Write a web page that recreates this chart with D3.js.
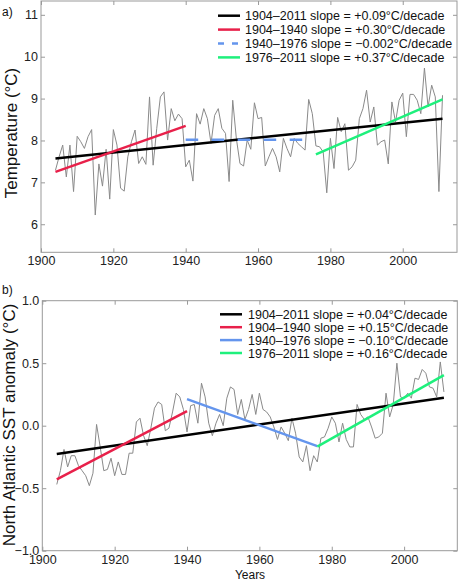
<!DOCTYPE html>
<html>
<head>
<meta charset="utf-8">
<script src="https://cdn.jsdelivr.net/npm/d3@7"></script>
<style>
  body { margin: 0; background: #fff; }
  svg { display: block; font-family: "Liberation Sans", Arial, sans-serif; }
  .frame { fill: none; stroke: #999; stroke-width: 1; }
  .tick line { stroke: #999; }
  .tick text { fill: #222; font-size: 12.5px; }
  .domain { display: none; }
  .legend text { font-size: 12.5px; fill: #111; }
</style>
</head>
<body>
<svg id="chart"></svg>
<script>
//years of the record//
var years = d3.range(1904, 2012);

//a) annual mean temperature (°C)//
var tempValues = [
  7.29, 7.61, 7.89, 7.13, 7.89, 6.78,
  8.10, 7.97, 7.81, 8.09, 8.26, 6.22, 7.44, 6.91, 7.79, 6.60,
  8.26, 7.89, 6.86, 6.79, 7.61, 7.97, 8.25, 7.45, 7.61, 7.43,
  9.04, 7.41, 8.29, 9.04, 9.16, 8.01, 8.76, 8.47, 8.63, 8.52,
  7.37, 7.53, 7.03, 8.64, 8.39, 8.76, 8.52, 7.93, 8.60, 8.76,
  8.29, 8.17, 7.02, 8.96, 8.05, 7.45, 7.39, 8.01, 7.79, 8.90,
  8.52, 8.55, 7.39, 7.61, 7.81, 7.61, 7.25, 8.05, 7.81, 7.61,
  8.05, 7.93, 7.85, 7.77, 8.98, 8.64, 7.87, 7.85, 7.73, 6.75,
  8.05, 7.33, 8.55, 8.21, 8.40, 7.29, 7.37, 7.53, 8.52, 8.76,
  9.20, 8.44, 8.80, 7.89, 7.97, 8.01, 7.44, 8.92, 8.44, 8.96,
  9.13, 8.09, 9.10, 9.10, 8.96, 8.64, 9.73, 8.80, 9.32, 9.04,
  6.78, 9.08
];

//b) North Atlantic SST anomaly (°C)//
var sstValues = [
  -0.47, -0.36, -0.19, -0.33, -0.24, -0.24,
  -0.32, -0.36, -0.40, -0.48, -0.38, 0.01, -0.17, -0.36, -0.35, -0.26,
  -0.40, -0.29, -0.39, -0.39, -0.22, -0.22, 0.03, 0.06, -0.08, -0.16,
  -0.02, 0.14, 0.19, 0.17, -0.04, -0.02, 0.11, 0.26, 0.23, 0.13,
  -0.05, 0.16, 0.17, 0.02, 0.34, 0.23, 0.02, -0.08, 0.02, 0.09,
  0.00, 0.22, 0.31, 0.29, 0.09, 0.21, 0.05, 0.13, 0.25, 0.09,
  0.26, 0.13, 0.11, 0.07, -0.01, -0.11, -0.01, -0.06, -0.12, 0.06,
  -0.06, -0.25, -0.29, -0.16, -0.36, -0.24, -0.29, -0.10, -0.09, -0.02,
  0.07, 0.02, -0.13, 0.02, -0.11, -0.17, -0.17, 0.17, 0.09, 0.05,
  0.07, -0.01, -0.10, -0.09, -0.06, 0.26, 0.07, 0.17, 0.50, 0.23,
  0.22, 0.26, 0.22, 0.38, 0.37, 0.45, 0.42, 0.31, 0.30, 0.23,
  0.51, 0.27
];

//trend periods, colours and fitted end values//
var trendPeriods = [[1904, 2011], [1904, 1940], [1940, 1976], [1976, 2011]];
var trendColors = ["#000000", "#e8204a", "#6495ed", "#1ef07c"];
var tempTrendEnds = [[7.57, 8.52], [7.25, 8.35], [8.02, 8.02], [7.67, 8.98]];
var sstTrendEnds = [[-0.227, 0.224], [-0.429, 0.117], [0.213, -0.163], [-0.168, 0.405]];

var tempLegend = [
  "1904\u20132011 slope = +0.09\u00b0C/decade",
  "1904\u20131940 slope = +0.30\u00b0C/decade",
  "1940\u20131976 slope = \u22120.002\u00b0C/decade",
  "1976\u20132011 slope = +0.37\u00b0C/decade"
];
var sstLegend = [
  "1904\u20132011 slope = +0.04\u00b0C/decade",
  "1904\u20131940 slope = +0.15\u00b0C/decade",
  "1940\u20131976 slope = \u22120.10\u00b0C/decade",
  "1976\u20132011 slope = +0.16\u00b0C/decade"
];

var xTicks = [1900, 1920, 1940, 1960, 1980, 2000];
var tempTicks = [6, 7, 8, 9, 10, 11];
var sstTicks = [-1, -0.5, 0, 0.5, 1];

var svg = d3.select("#chart").attr("width", 459).attr("height", 581);

var drawPanel = function (p) {
  var xScale = d3.scaleLinear().domain(p.xDomain).range([p.left, p.right]);
  var yScale = d3.scaleLinear().domain(p.yDomain).range([p.bottom, p.top]);

  var g = svg.append("g").classed("panel", true);

  //axes, ticks pointing inward on all four sides//
  g.append("g")
    .attr("transform", "translate(0," + p.bottom + ")")
    .call(d3.axisBottom(xScale).tickValues(xTicks).tickFormat(d3.format("d"))
      .tickSize(-4).tickPadding(p.xPad));
  g.append("g")
    .attr("transform", "translate(0," + p.top + ")")
    .call(d3.axisTop(xScale).tickValues(xTicks).tickFormat("").tickSize(-4));
  g.append("g")
    .attr("transform", "translate(" + p.left + ",0)")
    .call(d3.axisLeft(yScale).tickValues(p.yTicks).tickFormat(p.yFormat)
      .tickSize(-4).tickPadding(3));
  g.append("g")
    .attr("transform", "translate(" + p.right + ",0)")
    .call(d3.axisRight(yScale).tickValues(p.yTicks).tickFormat("").tickSize(-4));

  //gray annual series//
  var line = d3.line()
    .x(function (d, i) { return xScale(years[i]); })
    .y(function (d) { return yScale(d); });
  g.append("path")
    .datum(p.values)
    .attr("d", line)
    .attr("fill", "none")
    .attr("stroke", "#8a8a8a")
    .attr("stroke-width", 1);

  //trend lines//
  g.selectAll(".trend")
    .data(trendPeriods)
    .enter()
    .append("line")
    .classed("trend", true)
    .attr("x1", function (d) { return xScale(d[0]); })
    .attr("x2", function (d) { return xScale(d[1]); })
    .attr("y1", function (d, i) { return yScale(p.trendEnds[i][0]); })
    .attr("y2", function (d, i) { return yScale(p.trendEnds[i][1]); })
    .attr("stroke", function (d, i) { return trendColors[i]; })
    .attr("stroke-width", 2.5)
    .attr("stroke-dasharray", function (d, i) {
      return p.dashed && i == 2 ? "12.5,13.5" : null;
    });

  //legend//
  var legend = g.append("g").classed("legend", true);
  var rows = legend.selectAll("g")
    .data(p.legend)
    .enter()
    .append("g")
    .attr("transform", function (d, i) {
      return "translate(0," + (p.legendY + i * p.legendStep) + ")";
    });
  rows.append("line")
    .attr("x1", p.legendX)
    .attr("x2", p.legendX + 22)
    .attr("stroke", function (d, i) { return trendColors[i]; })
    .attr("stroke-width", 2.5)
    .attr("stroke-dasharray", function (d, i) {
      return p.dashed && i == 2 ? "6,8" : null;
    });
  rows.append("text")
    .attr("x", p.legendTextX)
    .attr("y", 4.5)
    .text(function (d) { return d; });

  //frame//
  g.append("rect")
    .classed("frame", true)
    .attr("x", p.left)
    .attr("y", p.top)
    .attr("width", p.right - p.left)
    .attr("height", p.bottom - p.top);

  //labels//
  g.append("text")
    .text(p.tag)
    .attr("x", 2)
    .attr("y", p.tagY)
    .attr("font-size", 12)
    .attr("fill", "#111");
  g.append("text")
    .text(p.ylabel)
    .attr("text-anchor", "middle")
    .attr("font-size", p.ylabelSize)
    .attr("fill", "#111")
    .attr("transform", "translate(" + p.ylabelX + "," + p.ylabelY + ") rotate(-90)");
};

drawPanel({
  left: 41, right: 457, top: 1, bottom: 252.3,
  xDomain: [1900, 2015], yDomain: [5.33, 11.33],
  yTicks: tempTicks, yFormat: d3.format("d"), xPad: 4,
  values: tempValues, trendEnds: tempTrendEnds, dashed: true,
  legend: tempLegend, legendX: 218, legendTextX: 245, legendY: 15.7, legendStep: 13.9,
  tag: "a)", tagY: 16,
  ylabel: "Temperature (\u00b0C)", ylabelSize: 17, ylabelX: 16.5, ylabelY: 133
});

drawPanel({
  left: 42.3, right: 457.3, top: 300.7, bottom: 550.7,
  xDomain: [1900, 2014.7], yDomain: [-1, 1],
  yTicks: sstTicks, yFormat: d3.format(".1f"), xPad: 4.4,
  values: sstValues, trendEnds: sstTrendEnds, dashed: false,
  legend: sstLegend, legendX: 220, legendTextX: 248, legendY: 314.3, legendStep: 12.9,
  tag: "b)", tagY: 294,
  ylabel: "North Atlantic SST anomaly (\u00b0C)", ylabelSize: 17, ylabelX: 15, ylabelY: 425
});

svg.append("text")
  .text("Years")
  .attr("x", 250)
  .attr("y", 579)
  .attr("text-anchor", "middle")
  .attr("font-size", 12)
  .attr("fill", "#111");
</script>
</body>
</html>
